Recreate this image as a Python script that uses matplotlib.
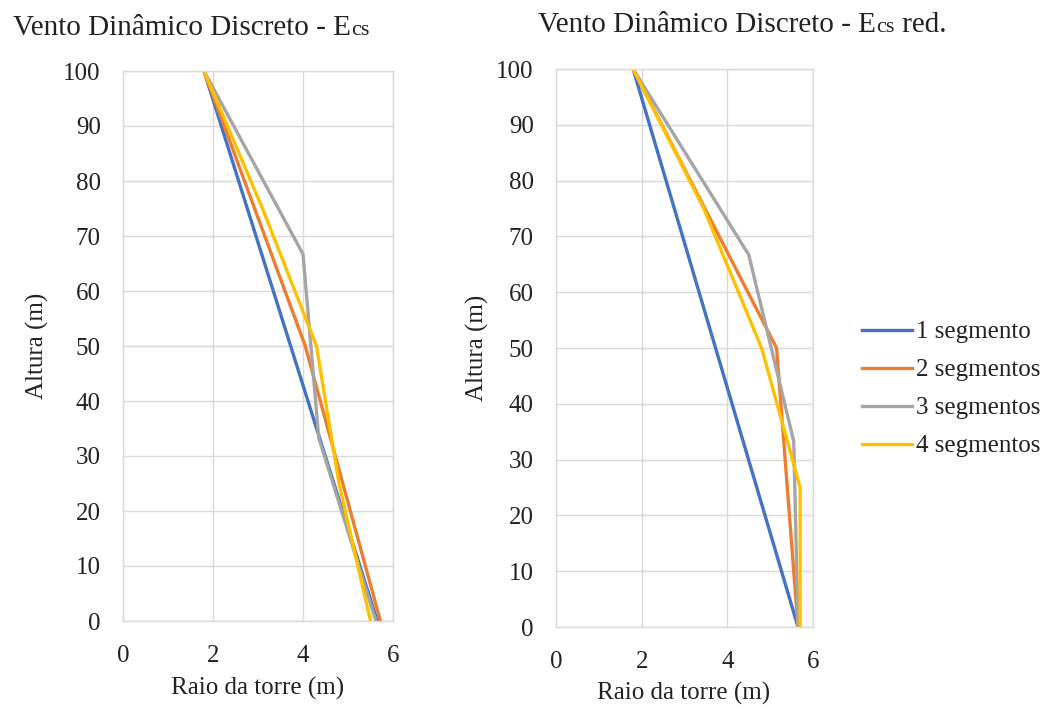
import matplotlib
matplotlib.use("Agg")
import matplotlib.pyplot as plt

plt.rcParams['font.family'] = ['Liberation Serif', 'DejaVu Serif']

# ---- data ----
series_names = ["1 segmento", "2 segmentos", "3 segmentos", "4 segmentos"]
colors = ["#4472C4", "#ED7D31", "#A5A5A5", "#FFC000"]

# Left chart: Ecs
left_h1 = [100, 0]
left_r1 = [1.8, 5.65]
left_h2 = [100, 50, 0]
left_r2 = [1.8, 4.05, 5.72]
left_h3 = [100, 66.7, 33.3, 0]
left_r3 = [1.8, 4.0, 4.35, 5.62]
left_h4 = [100, 75, 50, 25, 0]
left_r4 = [1.8, 3.1, 4.3, 4.8, 5.5]

# Right chart: Ecs red.
right_h1 = [100, 0]
right_r1 = [1.8, 5.65]
right_h2 = [100, 50, 0]
right_r2 = [1.8, 5.15, 5.65]
right_h3 = [100, 66.7, 33.3, 0]
right_r3 = [1.8, 4.5, 5.55, 5.65]
right_h4 = [100, 75, 50, 25, 0]
right_r4 = [1.8, 3.45, 4.8, 5.7, 5.7]

xticks = [0, 2, 4, 6]
yticks = [0, 10, 20, 30, 40, 50, 60, 70, 80, 90, 100]
xlabel = "Raio da torre (m)"
ylabel = "Altura (m)"

W, H = 1049, 710
fig = plt.figure(figsize=(W / 100, H / 100), dpi=100)

def px_axes(x0, y0, x1, y1):
    return fig.add_axes([x0 / W, (H - y1) / H, (x1 - x0) / W, (y1 - y0) / H])

axL = px_axes(123, 71, 393, 621)
axR = px_axes(556, 69, 813, 627)

FS = 18
TFS = 21
grid_c = "#D9D9D9"
txt_c = "#222222"

def style(ax):
    ax.set_xlim(0, 6)
    ax.set_ylim(0, 100)
    ax.set_xticks(xticks)
    ax.set_yticks(yticks)
    ax.grid(True, color=grid_c, linewidth=1.0)
    ax.set_axisbelow(True)
    for s in ax.spines.values():
        s.set_color(grid_c)
        s.set_linewidth(1.0)
    ax.tick_params(length=0, labelsize=FS, colors=txt_c)
    ax.tick_params(axis='x', pad=17)
    ax.tick_params(axis='y', pad=16)

lines = []
for ax, data in [
    (axL, [(left_r1, left_h1), (left_r2, left_h2), (left_r3, left_h3), (left_r4, left_h4)]),
    (axR, [(right_r1, right_h1), (right_r2, right_h2), (right_r3, right_h3), (right_r4, right_h4)]),
]:
    style(ax)
    ls = []
    for (r, h), c, n in zip(data, colors, series_names):
        l, = ax.plot(r, h, color=c, linewidth=2.4, label=n, solid_joinstyle='miter')
        ls.append(l)
    lines = ls

# axis labels
fig.text(258 / W, (H - 688) / H, xlabel, ha='center', va='center', fontsize=FS, color=txt_c)
fig.text(684 / W, (H - 693) / H, xlabel, ha='center', va='center', fontsize=FS, color=txt_c)
fig.text(37 / W, (H - 346) / H, ylabel, ha='center', va='center', rotation=90, fontsize=FS, color=txt_c)
fig.text(477 / W, (H - 348) / H, ylabel, ha='center', va='center', rotation=90, fontsize=FS, color=txt_c)

# legend
leg = fig.legend(handles=lines, labels=series_names, loc='center left',
                 bbox_to_anchor=(852 / W, (H - 389) / H), frameon=False,
                 fontsize=FS, handlelength=2.0, handletextpad=0.15,
                 labelspacing=0.62, borderaxespad=0)
for t in leg.get_texts():
    t.set_color(txt_c)

# titles with small "cs"
def title(x_px, base_px, extra):
    t1 = fig.text(x_px / W, (H - base_px) / H, "Vento Dinâmico Discreto - E",
                  ha='left', va='baseline', fontsize=TFS, color=txt_c)
    fig.canvas.draw()
    bb = t1.get_window_extent(renderer=fig.canvas.get_renderer())
    t2 = fig.text(bb.x1 / W + 0.5 / W, (H - base_px) / H, "cs", ha='left', va='baseline',
                  fontsize=TFS - 5, color=txt_c)
    if extra:
        fig.canvas.draw()
        bb2 = t2.get_window_extent(renderer=fig.canvas.get_renderer())
        fig.text(bb2.x1 / W, (H - base_px) / H, extra, ha='left', va='baseline',
                 fontsize=TFS, color=txt_c)

title(13, 35, "")
title(538, 32, " red.")

fig.savefig("out.png", dpi=100)
